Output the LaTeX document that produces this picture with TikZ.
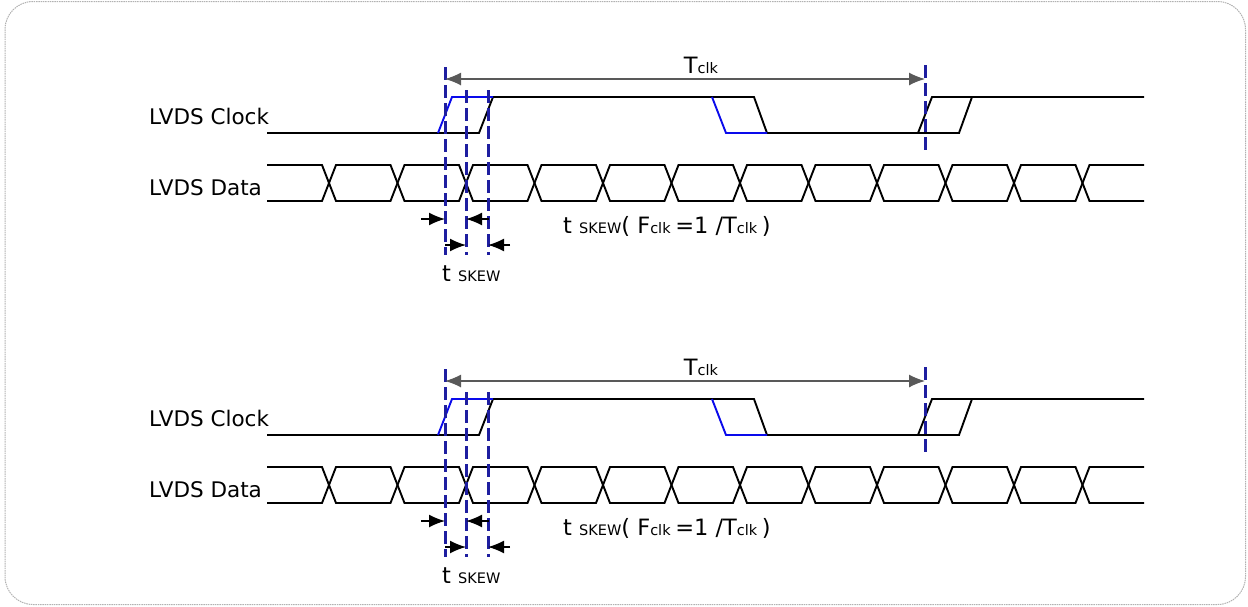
\documentclass[tikz,border=0pt]{standalone}
\usepackage{fontspec}
\setmainfont{DejaVu Sans}
\usetikzlibrary{arrows.meta}
\definecolor{guideblue}{RGB}{30,30,160}
\definecolor{edgeblue}{RGB}{10,10,235}
\newcommand\annfont{\fontsize{22.5}{26}\selectfont}
\newcommand\subfont{\fontsize{14.5}{17}\selectfont}
\begin{document}
\begin{tikzpicture}[x=1pt,y=-1pt,
    sig/.style={line width=1.9pt},
    guide/.style={guideblue,line width=3pt,dash pattern=on 13pt off 5pt},
    skew/.style={line width=1.5pt,-{Latex[length=16pt,width=13pt]}},
    period/.style={gray!70!black,line width=1.3pt,{Latex[length=16pt,width=13pt]}-{Latex[length=16pt,width=13pt]}},
    lbl/.style={inner sep=0pt,font=\fontsize{21.5}{25}\selectfont}]
    \useasboundingbox (0,0) rectangle (1248,606);
    \draw[gray!60,line width=1pt,dash pattern=on 1.5pt off 0.8pt,rounded corners=28pt] (5,1.5) rectangle (1245.5,604.5);
    % two identical panels
    \foreach \dy/\p in {0/a,302/b}{
    \begin{scope}[shift={(0,\dy)}]
        \node[lbl,anchor=base west] (clk\p) at (149,124) {LVDS Clock};
        \node[lbl,anchor=base west] (dat\p) at (149,195) {LVDS Data};
        % clock
        \draw[sig] (267,133) -- (479,133) -- (493,97) -- (754,97) -- (767,133) -- (959,133) -- (972,97) -- (1144,97);
        \draw[sig] (918,133) -- (932,97) -- (972,97);
        \draw[sig,edgeblue] (438,133) -- (452,97) -- (493,97);
        \draw[sig,edgeblue] (712,97) -- (726,133) -- (767,133);
        % data
        \draw[sig] (267,165) \foreach \k in {0,...,11}{ -- ({322+68.5*\k},{165+36*mod(\k,2)}) -- ({336+68.5*\k},{201-36*mod(\k,2)})} -- (1144,165);
        \draw[sig] (267,201) \foreach \k in {0,...,11}{ -- ({322+68.5*\k},{201-36*mod(\k,2)}) -- ({336+68.5*\k},{165+36*mod(\k,2)})} -- (1144,201);
        % guides
        \draw[guide] (445,67) -- (445,255);
        \draw[guide] (466,90) -- (466,255);
        \draw[guide] (488,90) -- (488,255);
        \draw[guide] (925,65) -- (925,152);
        % period
        \coordinate (ta\p) at (445,79);
        \coordinate (tb\p) at (925,79);
        \draw[period] (ta\p) -- (tb\p);
        \node[anchor=base,inner sep=0pt] (tclk\p) at (701,73) {\annfont T\subfont clk};
        % skew arrows
        \coordinate (s1\p) at (421,219); \coordinate (e1\p) at (445,219);
        \coordinate (s2\p) at (489,219); \coordinate (e2\p) at (466,219);
        \coordinate (s3\p) at (445,245); \coordinate (e3\p) at (466,245);
        \coordinate (s4\p) at (510,245); \coordinate (e4\p) at (488,245);
        \foreach \i in {1,...,4} \draw[skew] (s\i\p) -- (e\i\p);
        \node[anchor=base west,inner sep=0pt] (tsk\p) at (442,281) {\annfont t \subfont SKEW};
        \node[anchor=base west,inner sep=0pt] (fclk\p) at (563,233) {\annfont t \subfont SKEW\annfont( F\subfont clk \annfont=1 /T\subfont clk \annfont)};
    \end{scope}}
\end{tikzpicture}
\end{document}
